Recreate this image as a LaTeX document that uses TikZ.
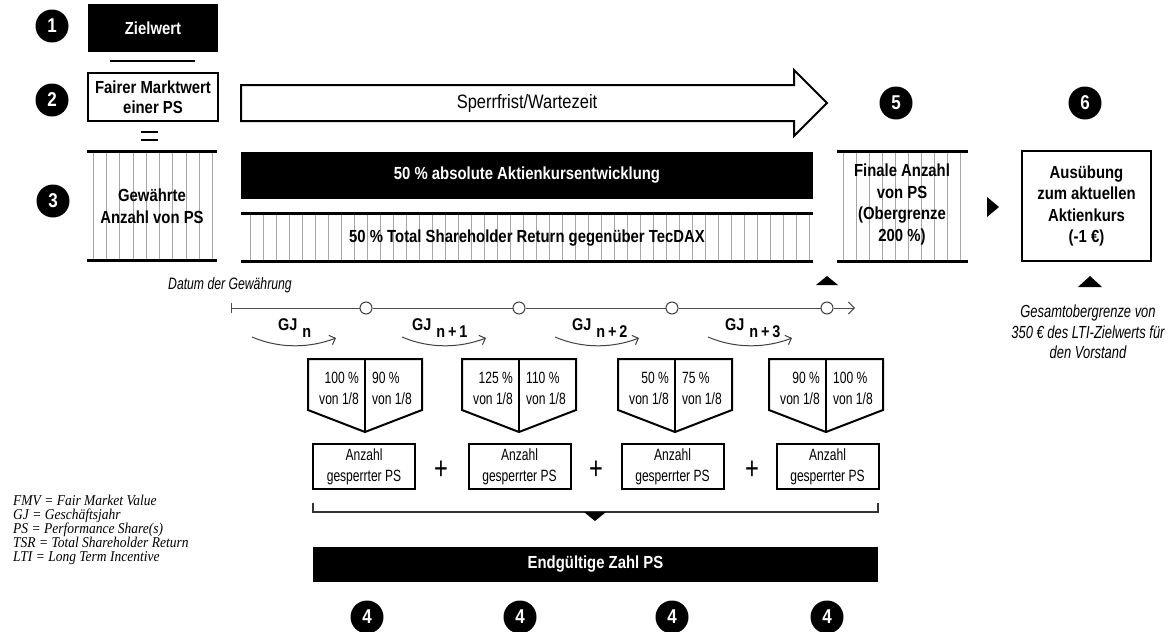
\documentclass[tikz,border=0pt]{standalone}
\usepackage{fontspec}
\setmainfont{Liberation Sans}[FakeStretch=0.85]
\newfontfamily\rfont{Liberation Sans}[FakeStretch=0.74]
\newfontfamily\bfont{Liberation Sans}[FakeStretch=0.85]
\newfontfamily\lfont{Liberation Serif}[FakeStretch=0.9]
\usetikzlibrary{arrows.meta}
\begin{document}
\begin{tikzpicture}[x=1pt,y=-1pt,
  bx/.style={font=\bfont\bfseries\fontsize{17.5}{21.5}\selectfont, align=center, inner sep=0pt},
  rx/.style={font=\rfont\fontsize{16.3}{21}\selectfont, inner sep=0pt},
  itx/.style={font=\rfont\itshape\fontsize{17.5}{20.5}\selectfont, inner sep=0pt, align=center},
  num/.style={circle, fill=black, text=white, minimum size=33pt, inner sep=0pt, font=\bfont\bfseries\fontsize{20}{20}\selectfont},
  outl/.style={draw=black, line width=2pt},
  blk/.style={fill=black, text=white},
  hatch/.style={draw=black!35, line width=0.8pt},
  thickrule/.style={line width=3pt},
  tl/.style={draw=black!70, line width=1pt},
  curv/.style={draw=black!75, line width=1pt, -{Straight Barb[length=5pt,width=10pt]}},
  gj/.style={font=\bfont\bfseries\fontsize{17}{17}\selectfont, inner sep=0pt, anchor=west},
]
\useasboundingbox (0,0) rectangle (1171,632);

% ---- 1 ----
\node[num] (n1) at (52,26) {1};
\node[blk, bx, minimum width=130pt, minimum height=48pt] (ziel) at (153,28) {Zielwert};
\coordinate (fracL) at (110,61);
\coordinate (fracR) at (195,61);
\draw[line width=2pt] (fracL) -- (fracR);

% ---- 2 ----
\node[num] (n2) at (52,100) {2};
\node[outl, bx, font=\bfont\bfseries\fontsize{17.5}{19.5}\selectfont, minimum width=130pt, minimum height=48pt] (fmw) at (153,97) {Fairer Marktwert\\einer PS};
\draw[line width=2pt] (141,132) -- (158,132) (141,140) -- (158,140);

% ---- 3 ----
\node[num] (n3) at (53,201) {3};
\foreach \i in {0,...,9} \draw[hatch] ({93+13.3*\i},151) -- ({93+13.3*\i},260);
\draw[thickrule] (87,151) -- (217,151) (87,260) -- (217,260);
\node[bx] (gew) at (152,206) {Gewährte\\Anzahl von PS};

% ---- Sperrfrist arrow ----
\draw[outl, line join=miter] (241,85) -- (794,85) -- (794,70) -- (827,103) -- (794,136) -- (794,121) -- (241,121) -- cycle;
\node[font=\bfont\fontsize{19.4}{20}\selectfont, inner sep=0pt] (sperr) at (527,103) {Sperrfrist/Wartezeit};

% ---- performance bars ----
\node[blk, bx, minimum width=572pt, minimum height=47pt] (abs) at (527,175.5) {50~\% absolute Aktienkursentwicklung};
\foreach \i in {0,...,43} \draw[hatch] ({250+13*\i},213) -- ({250+13*\i},261);
\draw[thickrule] (241,213) -- (813,213) (241,261) -- (813,261);
\node[bx] (tsr) at (527,238) {50~\% Total Shareholder Return gegenüber TecDAX};
\fill (816,285) -- (838,285) -- (827,276) -- cycle;

% ---- 5 ----
\node[num] (n5) at (896,103) {5};
\foreach \i in {0,...,9} \draw[hatch] ({843+13*\i},151) -- ({843+13*\i},261);
\draw[thickrule] (837,151) -- (968,151) (837,261) -- (968,261);
\node[bx] (fin) at (902,204.5) {Finale Anzahl\\von PS\\(Obergrenze\\200~\%)};
\fill (987,197) -- (999,207) -- (987,217) -- cycle;

% ---- 6 ----
\node[num] (n6) at (1085,103) {6};
\node[outl, bx, minimum width=129pt, minimum height=110pt] (aus) at (1086.5,206) {Ausübung\\zum aktuellen\\Aktienkurs\\(-1~€)};
\fill (1078,287) -- (1102,287) -- (1090,276) -- cycle;
\node[itx] (ges) at (1088,332) {Gesamtobergrenze von\\350 € des LTI-Zielwerts für\\den Vorstand};

% ---- timeline ----
\node[itx, font=\rfont\itshape\fontsize{16.5}{20}\selectfont, anchor=west] (dat) at (168,285) {Datum der Gewährung};
\coordinate (t0) at (231,308);
\coordinate (tend) at (855,308);
\node[circle, draw=black!75, line width=1pt, fill=white, minimum size=12pt, inner sep=0pt] (c1) at (366,308) {};
\node[circle, draw=black!75, line width=1pt, fill=white, minimum size=12pt, inner sep=0pt] (c2) at (519,308) {};
\node[circle, draw=black!75, line width=1pt, fill=white, minimum size=12pt, inner sep=0pt] (c3) at (672,308) {};
\node[circle, draw=black!75, line width=1pt, fill=white, minimum size=12pt, inner sep=0pt] (c4) at (827,308) {};
\draw[tl] (231,303) -- (231,313);
\draw[tl] (t0) -- (c1) (c1) -- (c2) (c2) -- (c3) (c3) -- (c4);
\draw[tl, -{Straight Barb[length=6pt,width=12pt]}] (c4) -- (tend);

% ---- GJ labels ----
\node[gj] (gj1) at (278,328) {GJ\hspace{5pt}\raisebox{-7pt}{n}};
\node[gj] (gj2) at (412,328) {GJ\hspace{5pt}\raisebox{-7pt}{n\,+\,1}};
\node[gj] (gj3) at (572,328) {GJ\hspace{5pt}\raisebox{-7pt}{n\,+\,2}};
\node[gj] (gj4) at (725,328) {GJ\hspace{5pt}\raisebox{-7pt}{n\,+\,3}};
\foreach \s in {252,402,555,708}
  \draw[curv] (\s,337) .. controls ({\s+28},349) and ({\s+58},348) .. ({\s+84},338);

% ---- pentagons ----
\foreach \c/\a/\b [count=\k] in {365/100/90, 519/125/110, 675/50/75, 826/90/100} {
  \draw[outl, line join=miter] ({\c-57},359) -- ({\c+57},359) -- ({\c+57},410) -- (\c,432) -- ({\c-57},410) -- cycle;
  \draw[outl] (\c,359) -- (\c,432);
  \node[rx, align=right, anchor=east] (pl\k) at ({\c-6},388) {\a~\%\\von 1/8};
  \node[rx, align=left, anchor=west] (pr\k) at ({\c+7},388) {\b~\%\\von 1/8};
}

% ---- Anzahl boxes ----
\foreach \c [count=\k] in {364,519.5,672.5,827.5}
  \node[outl, rx, align=center, minimum width=102pt, minimum height=45pt] (a\k) at (\c,466.5) {Anzahl\\gesperrter PS};
\node[font=\rfont\fontsize{32}{32}\selectfont, inner sep=0pt] (p1) at (441,470) {+};
\node[font=\rfont\fontsize{32}{32}\selectfont, inner sep=0pt] (p2) at (596,470) {+};
\node[font=\rfont\fontsize{32}{32}\selectfont, inner sep=0pt] (p3) at (752,470) {+};

% ---- bracket ----
\coordinate (bl) at (313,512);
\coordinate (br) at (878,512);
\draw[line width=1.2pt, draw=black!80] (313,503) -- (bl) -- (br) -- (878,503);
\fill (584,512) -- (606,512) -- (595,521) -- cycle;

% ---- final bar ----
\node[blk, bx, minimum width=565pt, minimum height=35pt] (endg) at (595.5,564.5) {Endgültige Zahl PS};
\node[num] (n4a) at (367,617) {4};
\node[num] (n4b) at (520,617) {4};
\node[num] (n4c) at (672,617) {4};
\node[num] (n4d) at (827,617) {4};

% ---- legend ----
\node[font=\lfont\itshape\fontsize{15}{14}\selectfont, align=left, anchor=west, inner sep=0pt] (leg) at (13,529.5) {FMV = Fair Market Value\\GJ = Geschäftsjahr\\PS = Performance Share(s)\\TSR = Total Shareholder Return\\LTI = Long Term Incentive};
\end{tikzpicture}
\end{document}
